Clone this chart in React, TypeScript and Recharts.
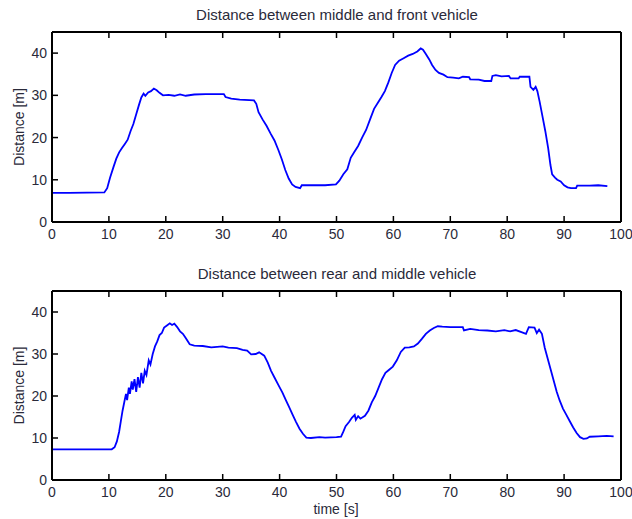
import { LineChart, Line, XAxis, YAxis, Label } from "recharts";

// front gap (middle vs front vehicle)
const frontTime = [0, 3, 9.2, 9.7, 10.2, 10.8, 11.3, 11.8, 12.3, 12.8, 13.3, 13.8, 14.3, 14.8, 15.3, 15.7, 16.1, 16.4, 16.9, 17.4, 17.9, 18.4, 18.9, 19.5, 20.5, 21.5, 22.5, 23.5, 25, 27, 29, 30.2, 30.5, 31.5, 33, 35.5, 35.9, 36.3, 37, 37.7, 38.4, 39.1, 39.8, 40.4, 41, 41.6, 42.2, 42.8, 43.6, 43.9, 46, 48, 49.9, 50.5, 51.2, 51.9, 52.5, 53.1, 53.8, 54.5, 55.2, 55.9, 56.6, 57.3, 57.9, 58.5, 59.1, 59.7, 60.3, 61, 61.8, 62.6, 63.4, 64.2, 64.8, 65.2, 65.7, 66.3, 66.8, 67.4, 68, 68.8, 69.5, 70.5, 71.5, 72.2, 73.3, 73.5, 75, 76, 77.2, 77.4, 78, 79, 80.3, 80.6, 82, 82.2, 83.9, 84.1, 84.6, 85, 85.3, 85.7, 86.2, 86.7, 87.2, 87.6, 87.9, 88.4, 88.8, 89.4, 90, 90.6, 91.2, 92.1, 92.3, 94.5, 96, 97.6];
const frontDist = [6.9, 6.9, 7.0, 8.0, 10.5, 13.0, 15.0, 16.5, 17.5, 18.5, 19.5, 21.5, 23.2, 25.5, 27.8, 29.5, 30.4, 29.9, 30.7, 31.0, 31.6, 31.2, 30.6, 30.0, 30.1, 29.9, 30.2, 29.9, 30.2, 30.3, 30.3, 30.3, 29.6, 29.2, 29.0, 28.8, 28.0, 26.0, 24.3, 22.8, 21.0, 19.3, 17.0, 14.8, 12.3, 10.3, 8.9, 8.3, 8.0, 8.7, 8.7, 8.7, 8.9, 9.8, 11.3, 12.5, 15.2, 16.5, 18.0, 20.0, 21.8, 24.3, 26.8, 28.3, 29.6, 31.0, 33.0, 35.3, 37.2, 38.2, 38.8, 39.4, 39.8, 40.4, 41.1, 40.8, 39.8, 38.5, 37.2, 36.0, 35.3, 34.9, 34.3, 34.2, 34.0, 34.4, 34.3, 33.8, 33.7, 33.4, 33.4, 34.6, 34.8, 34.5, 34.6, 34.0, 34.0, 34.4, 34.4, 32.0, 31.3, 32.0, 31.0, 28.5, 25.0, 21.5, 17.5, 13.5, 11.3, 10.5, 10.0, 9.6, 8.7, 8.2, 8.0, 8.0, 8.6, 8.6, 8.7, 8.5];

// rear gap (rear vs middle vehicle)
const rearTime = [0, 10.5, 11, 11.4, 11.8, 12.1, 12.4, 12.7, 13, 13.2, 13.5, 13.7, 14, 14.2, 14.5, 14.8, 15.1, 15.4, 15.7, 16, 16.3, 16.6, 17, 17.3, 17.7, 18.1, 18.5, 18.9, 19.3, 19.7, 20.2, 20.7, 21.1, 21.5, 22, 22.5, 23, 23.5, 24.2, 25, 26.5, 28, 30, 31, 32.5, 33.5, 34.3, 35, 35.8, 36.4, 37.3, 37.9, 38.5, 39.1, 39.8, 40.5, 41.1, 41.7, 42.3, 42.9, 43.5, 44.1, 44.7, 45.5, 47, 48, 50, 50.8, 51.2, 51.6, 52.2, 52.7, 53.2, 53.4, 53.8, 54.2, 55, 55.6, 56.2, 56.8, 57.4, 58, 58.6, 59.2, 59.9, 60.6, 61.3, 62, 62.8, 63.6, 64.3, 65, 65.7, 66.4, 67.1, 67.8, 68.6, 70, 72.2, 72.4, 73.5, 75, 76.5, 78, 79.5, 80.5, 81.5, 82.5, 83.3, 83.8, 84.8, 85.2, 85.6, 86.1, 86.6, 87.1, 87.7, 88.2, 88.7, 89.2, 89.8, 90.4, 91, 91.6, 92.2, 92.8, 93.4, 94, 94.5, 96, 97.5, 98.7];
const rearDist = [7.3, 7.3, 7.8, 9.2, 11.5, 14.0, 16.5, 18.5, 20.5, 19.0, 22.0, 20.5, 23.5, 21.5, 24.0, 21.0, 24.5, 22.0, 25.5, 23.0, 26.0, 25.0, 28.5, 27.5, 30.0, 31.8, 33.0, 34.5, 35.0, 36.3, 36.8, 37.3, 36.9, 37.2, 36.4, 35.4, 34.8, 33.8, 32.3, 32.0, 31.9, 31.6, 31.8, 31.5, 31.4, 31.0, 30.8, 29.9, 30.0, 30.4, 29.6, 28.0, 26.0, 24.4, 22.6, 20.8, 19.0, 17.3, 15.5, 13.8, 12.2, 11.0, 10.1, 10.0, 10.2, 10.1, 10.2, 10.3, 11.5, 12.8, 13.8, 14.8, 15.5, 14.3, 15.2, 14.6, 15.3, 16.5, 18.5, 20.0, 22.0, 24.0, 25.5, 26.2, 27.0, 28.5, 30.5, 31.5, 31.6, 31.8, 32.5, 33.6, 34.8, 35.6, 36.2, 36.6, 36.5, 36.4, 36.4, 35.6, 36.0, 35.7, 35.6, 35.4, 35.7, 35.4, 35.7, 35.2, 34.8, 36.4, 36.3, 35.0, 35.8, 34.8, 31.5, 29.0, 26.0, 23.5, 21.0, 19.0, 17.0, 15.5, 14.0, 12.5, 11.2, 10.2, 9.8, 9.9, 10.3, 10.4, 10.5, 10.4];

const xTicks = [0, 10, 20, 30, 40, 50, 60, 70, 80, 90, 100];
const yTicks = [0, 10, 20, 30, 40];

const font = "'Liberation Sans', Arial, sans-serif";
const textColor = "#2a2a3a";

const BottomTick = ({ x, y, payload }: any) => (
  <g>
    <line x1={x} x2={x} y1={y} y2={y - 6} stroke="#000" strokeWidth={1.5} />
    <text x={x} y={y + 17} textAnchor="middle" fontSize={14} fontFamily={font} fill={textColor}>
      {payload.value}
    </text>
  </g>
);
const TopTick = ({ x, y }: any) => <line x1={x} x2={x} y1={y} y2={y + 6} stroke="#000" strokeWidth={1.5} />;
const LeftTick = ({ x, y, payload }: any) => (
  <g>
    <line x1={x} x2={x + 6} y1={y} y2={y} stroke="#000" strokeWidth={1.5} />
    <text x={x - 5} y={y + 5} textAnchor="end" fontSize={14} fontFamily={font} fill={textColor}>
      {payload.value}
    </text>
  </g>
);
const RightTick = ({ x, y }: any) => <line x1={x} x2={x - 6} y1={y} y2={y} stroke="#000" strokeWidth={1.5} />;

function Panel({ times, values, title, height, top, showXLabel }: any) {
  const rows = times.map((t: number, i: number) => ({ t, d: values[i] }));
  const axisLine = { stroke: "#000", strokeWidth: 2 };
  const plotH = height - top - 30 - (showXLabel ? 39 : 38);
  return (
    <LineChart width={632} height={height} data={rows} margin={{ top, right: 1, bottom: 0, left: 0 }}>
      <XAxis xAxisId="b" dataKey="t" type="number" domain={[0, 100]} ticks={xTicks} height={showXLabel ? 39 : 38}
        axisLine={axisLine} tickLine={false} tickSize={0} tickMargin={0} tick={BottomTick} interval={0}>
        {showXLabel && (
          <Label content={() => (
            <text x={336} y={height - 5} textAnchor="middle" fontSize={14} fontFamily={font} fill={textColor}>time [s]</text>
          )} />
        )}
      </XAxis>
      <XAxis xAxisId="top" orientation="top" dataKey="t" type="number" domain={[0, 100]} ticks={xTicks} height={30}
        axisLine={axisLine} tickLine={false} tickSize={0} tickMargin={0} tick={TopTick} interval={0}>
        <Label content={() => (
          <text x={337} y={top + 18} textAnchor="middle" fontSize={15} fontFamily={font} fill={textColor}>{title}</text>
        )} />
      </XAxis>
      <YAxis yAxisId="l" type="number" domain={[0, 45]} ticks={yTicks} width={52}
        axisLine={axisLine} tickLine={false} tickSize={0} tickMargin={0} tick={LeftTick} interval={0}>
        <Label content={() => (
          <text transform={`translate(24, ${top + 30 + plotH / 2}) rotate(-90)`} textAnchor="middle"
            fontSize={14} fontFamily={font} fill={textColor}>Distance [m]</text>
        )} />
      </YAxis>
      <YAxis yAxisId="r" orientation="right" type="number" domain={[0, 45]} ticks={yTicks} width={10}
        axisLine={axisLine} tickLine={false} tickSize={0} tickMargin={0} tick={RightTick} interval={0} />
      <Line xAxisId="b" yAxisId="l" dataKey="d" type="linear" stroke="#0000ff" strokeWidth={1.8} dot={false} isAnimationActive={false} />
    </LineChart>
  );
}

export default function App() {
  return (
    <div style={{ position: "absolute", left: 0, top: 0, width: 632, height: 519, background: "#fff" }}>
      <div style={{ position: "absolute", left: 0, top: 0 }}>
        <Panel times={frontTime} values={frontDist} title="Distance between middle and front vehicle" height={260} top={2} showXLabel={false} />
      </div>
      <div style={{ position: "absolute", left: 0, top: 260 }}>
        <Panel times={rearTime} values={rearDist} title="Distance between rear and middle vehicle" height={259} top={1} showXLabel={true} />
      </div>
    </div>
  );
}
